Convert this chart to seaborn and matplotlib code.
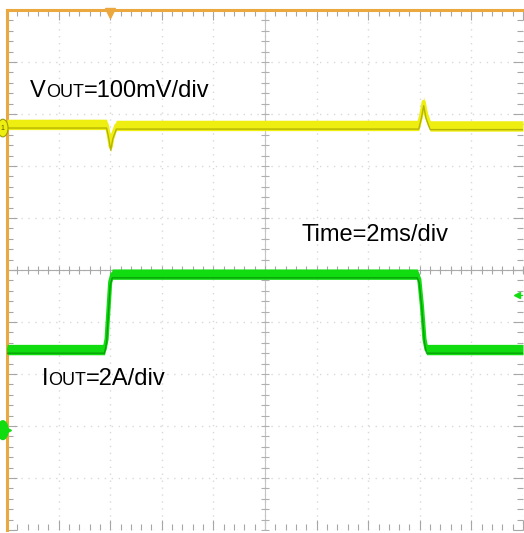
"""
Scope capture: load-step transient (VOUT / IOUT), redrawn with seaborn.
"""

import numpy as np
import pandas as pd
import matplotlib
matplotlib.use("Agg")
import matplotlib.pyplot as plt
from matplotlib.patches import Ellipse
from matplotlib.ticker import MultipleLocator
import seaborn as sns

# ── Captured waveforms (time in ms, 2 ms/div) ────────────────────────────────
vout_t  = [-10.0, -6.14, -6.06, -5.98, -5.90, -5.76, 5.96, 6.07, 6.15, 6.24, 6.40, 10.0]
vout_mv = [7, 7, -12, -36, -14, 5, 5, 28, 50, 26, 4, 4]

iout_t = [-10.0, -6.22, -6.14, -6.00, -5.92, 5.90, 5.98, 6.08, 6.18, 6.26, 10.0]
iout_a = [3.1, 3.1, 3.5, 5.7, 6.0, 6.0, 5.8, 4.8, 3.5, 3.1, 3.1]

# ── Scope settings ────────────────────────────────────────────────────────────
VOUT_SCALE = 100.0   # mV/div
IOUT_SCALE = 2.0     # A/div
VOUT_POS   = 2.73    # ch1 ground marker (div)
IOUT_POS   = -3.08   # ch2 ground marker (div)
TRIG_T     = -6.0    # trigger position (ms)
TRIG_LEVEL = 5.2     # trigger level (A)

labels = {
    "vout": [("V", 17), ("OUT", 13), ("=100mV/div", 17)],
    "time": [("Time=2ms/div", 17)],
    "iout": [("I", 17), ("OUT", 13), ("=2A/div", 17)],
}

YELLOW, OLIVE = "#eeee10", "#9c9c00"
GREEN, DKGREEN = "#10dc10", "#078a07"
ORANGE = "#eba83e"
GRID = "#d9d9d9"
FONT = ["Liberation Sans", "DejaVu Sans"]

vdf = pd.DataFrame({"t": vout_t, "val": vout_mv})
vdf["div"] = VOUT_POS + vdf["val"] / VOUT_SCALE
idf = pd.DataFrame({"t": iout_t, "val": iout_a})
idf["div"] = IOUT_POS + idf["val"] / IOUT_SCALE

sns.set_style("white")
plt.rcParams["font.family"] = FONT

fig = plt.figure(figsize=(5.24, 5.33), dpi=100)
ax = fig.add_axes([7 / 524, 3 / 533, 516 / 524, 520 / 533])
ax.set_xlim(-10, 10)
ax.set_ylim(-5, 5)

# ── Graticule ─────────────────────────────────────────────────────────────────
ax.set_xticks(np.arange(-10, 11, 2))
ax.set_yticks(np.arange(-5, 6, 1))
ax.xaxis.set_minor_locator(MultipleLocator(0.4))
ax.yaxis.set_minor_locator(MultipleLocator(0.2))
ax.grid(which="major", color=GRID, linestyle=(0, (1, 4)), lw=1.0, zorder=0)
ax.tick_params(which="both", direction="in", top=True, right=True,
               bottom=True, left=True, labelbottom=False, labelleft=False,
               color="#a6a6a6", width=0.8)
ax.tick_params(which="major", length=7)
ax.tick_params(which="minor", length=4)
for side in ("right", "bottom"):
    ax.spines[side].set_visible(False)
for side in ("left", "top"):
    ax.spines[side].set_color(ORANGE)
    ax.spines[side].set_linewidth(2.2)

ax.axhline(0, color="#ababab", lw=0.8, zorder=1)
ax.axvline(0, color="#c4c4c4", lw=0.8, zorder=1)
tx = np.arange(-10, 10.01, 0.4)
ax.plot(tx, np.zeros_like(tx), ls="none", marker="|", ms=6, mew=0.8,
        color="#a6a6a6", zorder=1)
ty = np.arange(-5, 5.01, 0.2)
ax.plot(np.zeros_like(ty), ty, ls="none", marker="_", ms=6, mew=0.8,
        color="#b0b0b0", zorder=1)

# ── Traces ────────────────────────────────────────────────────────────────────
for df, light, dark in ((vdf, YELLOW, OLIVE), (idf, GREEN, DKGREEN)):
    ax.fill_between(df["t"], df["div"] - 0.10, df["div"] + 0.10,
                    color=light, lw=0, zorder=3)
    sns.lineplot(data=df, x="t", y="div", color=light, lw=3,
                 sort=False, estimator=None, ax=ax, zorder=3)
    low = df.assign(div=df["div"] - 0.07)
    sns.lineplot(data=low, x="t", y="div", color=dark, lw=1.0, alpha=0.7,
                 sort=False, estimator=None, ax=ax, zorder=4)
ax.set_xlabel("")
ax.set_ylabel("")

# ── Channel / trigger markers ────────────────────────────────────────────────
ax.add_patch(Ellipse((-10.16, VOUT_POS), 0.40, 0.34, color=YELLOW, ec=OLIVE,
                     lw=0.8, clip_on=False, zorder=6))
ax.text(-10.16, VOUT_POS, "1", fontsize=5, ha="center", va="center",
        color="#555500", clip_on=False, zorder=7)
ax.add_patch(Ellipse((-10.16, IOUT_POS), 0.40, 0.36, color=GREEN,
                     clip_on=False, zorder=6))
ax.plot(-9.98, IOUT_POS, marker=">", ms=4, color=GREEN, clip_on=False, zorder=6)
ax.plot(TRIG_T, 4.94, marker="v", ms=7, color=ORANGE, clip_on=False, zorder=6)
trig_div = IOUT_POS + TRIG_LEVEL / IOUT_SCALE
ax.plot(9.78, trig_div, marker="<", ms=4, color=GREEN, zorder=6)
ax.plot([9.78, 9.95], [trig_div, trig_div], color=GREEN, lw=1, zorder=6)

# ── Annotations (small-caps subscripts drawn piece by piece) ─────────────────
renderer = fig.canvas.get_renderer()


def put_label(x, y, parts):
    for s, size in parts:
        t = ax.text(x, y, s, fontsize=size, ha="left", va="baseline",
                    color="black", zorder=8)
        bb = t.get_window_extent(renderer=renderer)
        x = ax.transData.inverted().transform((bb.x1, bb.y0))[0]


put_label(-9.10, 3.33, labels["vout"])
put_label(1.40, 0.56, labels["time"])
put_label(-8.66, -2.21, labels["iout"])

fig.savefig("out.png", dpi=100)
plt.close(fig)
